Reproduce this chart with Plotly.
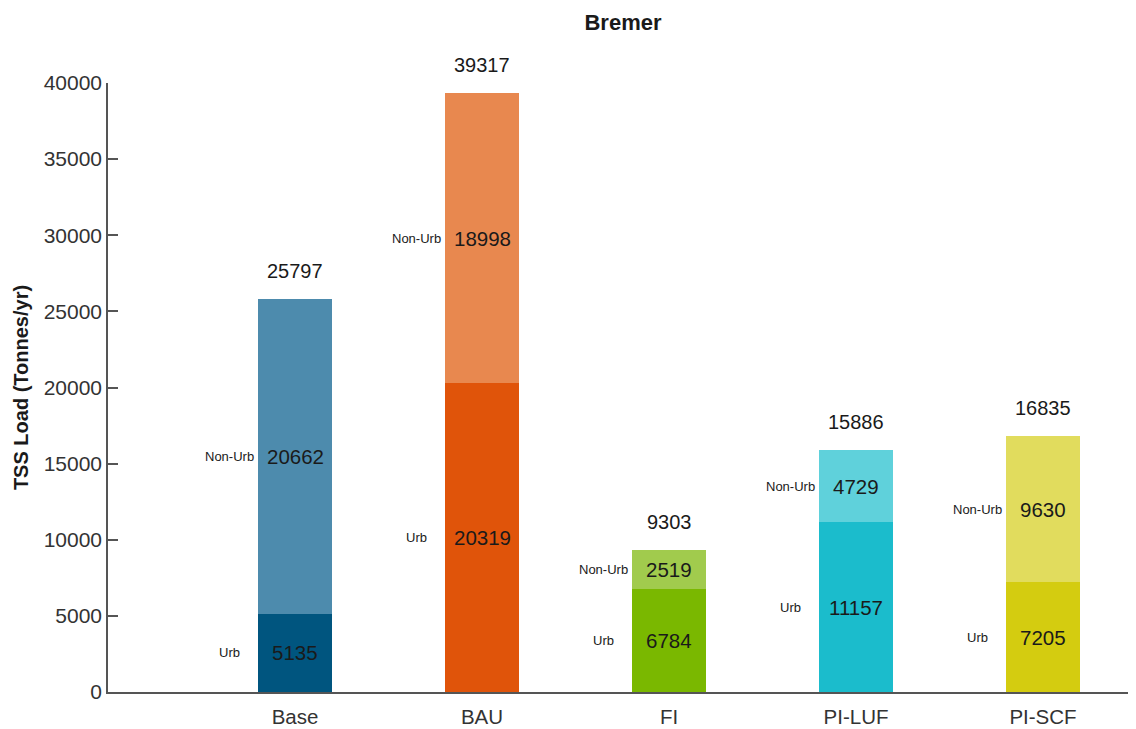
import plotly.graph_objects as go

categories = ["Base", "BAU", "FI", "PI-LUF", "PI-SCF"]
urb = [5135, 20319, 6784, 11157, 7205]
non_urb = [20662, 18998, 2519, 4729, 9630]
totals = [25797, 39317, 9303, 15886, 16835]
urb_colors = ["#00557f", "#e0540a", "#7ab800", "#1bbccc", "#d4cc10"]
non_urb_colors = ["#4d8bad", "#e8884f", "#a1cb4d", "#5fd1db", "#e1dc5d"]

FONT = "Liberation Sans, Arial, sans-serif"
xpos = list(range(len(categories)))

fig = go.Figure()
fig.add_trace(go.Bar(x=xpos, y=urb, marker_color=urb_colors, width=0.4,
                     marker_line_width=0, showlegend=False, hoverinfo="skip"))
fig.add_trace(go.Bar(x=xpos, y=non_urb, marker_color=non_urb_colors, width=0.4,
                     marker_line_width=0, showlegend=False, hoverinfo="skip"))

ann = []
for i in xpos:
    u, n, t = urb[i], non_urb[i], totals[i]
    ann.append(dict(x=i, y=u / 2, text=str(u), showarrow=False,
                    font=dict(size=20.5, color="#1a1a1a", family=FONT)))
    ann.append(dict(x=i, y=u + n / 2, text=str(n), showarrow=False,
                    font=dict(size=20.5, color="#1a1a1a", family=FONT)))
    ann.append(dict(x=i, y=t, text=str(t), showarrow=False, yanchor="bottom", yshift=15,
                    font=dict(size=20, color="#1a1a1a", family=FONT)))
    ann.append(dict(x=i, y=u / 2, text="Urb", showarrow=False, xshift=-66,
                    font=dict(size=13, color="#1a1a1a", family=FONT)))
    ann.append(dict(x=i, y=u + n / 2, text="Non-Urb", showarrow=False, xshift=-66,
                    font=dict(size=13, color="#1a1a1a", family=FONT)))

fig.update_layout(
    barmode="stack",
    width=1136, height=721,
    margin=dict(l=100, r=0, t=75, b=37),
    paper_bgcolor="white", plot_bgcolor="white",
    title=dict(text="<b>Bremer</b>", x=615 / 1136, xanchor="center", y=1 - 14 / 721, yanchor="middle",
               font=dict(size=22, color="#1a1a1a", family=FONT)),
    annotations=ann,
    font=dict(family=FONT, color="#333333"),
)
fig.update_xaxes(range=[-1, 4.54], tickmode="array", tickvals=xpos, ticktext=categories,
                 showgrid=False, zeroline=False, showline=True, linecolor="#555555", linewidth=1.5,
                 ticks="", ticklabelstandoff=6, automargin=False,
                 tickfont=dict(size=20.5, color="#333333", family=FONT))
fig.update_yaxes(range=[0, 40000], tickvals=[0, 5000, 10000, 15000, 20000, 25000, 30000, 35000, 40000],
                 tickformat="d", automargin=False,
                 showgrid=False, zeroline=False, showline=True, linecolor="#555555", linewidth=1.5,
                 ticks="inside", ticklen=10, tickcolor="#555555", tickwidth=1.5,
                 tickfont=dict(size=21, color="#333333", family=FONT),
                 title=dict(text="<b>TSS Load (Tonnes/yr)</b>", standoff=10,
                            font=dict(size=20, color="#1a1a1a", family=FONT)))

fig.write_html("out.html")
